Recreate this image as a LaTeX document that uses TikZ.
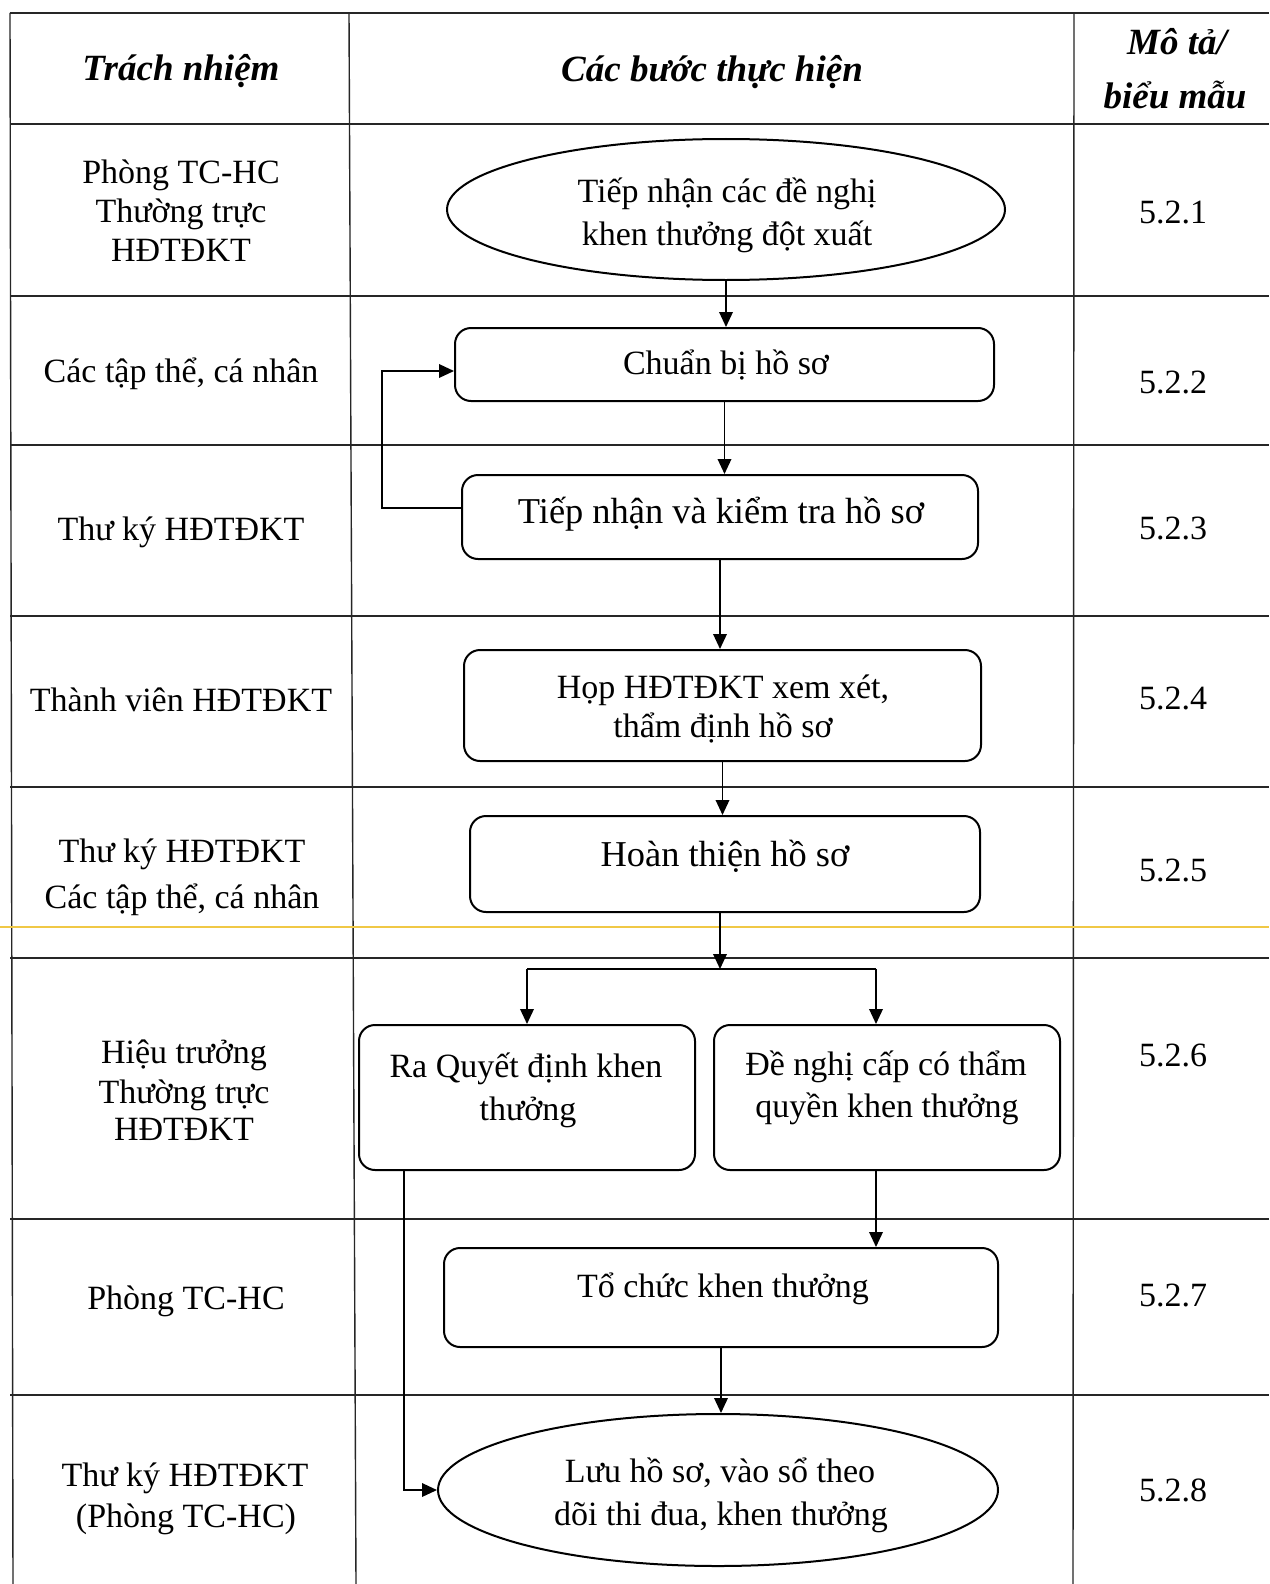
\documentclass[tikz,border=0pt]{standalone}
\usepackage{fontspec}
\setmainfont{Liberation Serif}
\usetikzlibrary{arrows.meta,shapes.geometric,calc}
\definecolor{scanyellow}{RGB}{240,200,70}
\begin{document}
\begin{tikzpicture}[x=0.5pt,y=-0.5pt,
  grid/.style={line width=0.7pt, draw=black!85},
  boxnode/.style={draw, line width=1pt, rounded corners=8pt, inner sep=0pt},
  ellnode/.style={draw, ellipse, line width=1pt, inner sep=0pt},
  ln/.style={inner sep=0pt, text height=12.75pt, text depth=2.55pt, font=\fontsize{17}{20}\selectfont},
  lnb/.style={ln, font=\fontsize{18.2}{21}\selectfont},
  hd/.style={ln, font=\fontsize{18.5}{22}\bfseries\itshape\selectfont},
  arr/.style={line width=0.8pt, -{Triangle[length=7.5pt,width=6.8pt]}},
  link/.style={line width=0.8pt}
]
\useasboundingbox (0,0) rectangle (1269,1584);
\fill[white] (0,0) rectangle (1269,1584);

% table grid
\foreach \yy in {13,124,296,445,616,787,958,1219,1395}
  \draw[grid] (10,\yy) -- (1269,\yy);
\draw[grid] (10,13) -- (13,1584);
\draw[grid] (349,13) -- (356,1584);
\draw[grid] (1074,13) -- (1073,1584);
\draw[line width=0.6pt, draw=scanyellow] (0,927) -- (1269,927);

% header
\node[hd] (h1) at (181,70) {Trách nhiệm};
\node[hd] (h2) at (712,71) {Các bước thực hiện};
\node[hd] (h3a) at (1177,44) {Mô tả/};
\node[hd] (h3b) at (1175,98) {biểu mẫu};

% responsibility column
\node[ln] (r1a) at (181,173) {Phòng TC-HC};
\node[ln] (r1b) at (181,212) {Thường trực};
\node[ln] (r1c) at (181,251) {HĐTĐKT};
\node[ln] (r2) at (181,372) {Các tập thể, cá nhân};
\node[ln] (r3) at (181,530) {Thư ký HĐTĐKT};
\node[ln] (r4) at (181,701) {Thành viên HĐTĐKT};
\node[ln] (r5a) at (182,852) {Thư ký HĐTĐKT};
\node[ln] (r5b) at (182,898) {Các tập thể, cá nhân};
\node[ln] (r6a) at (184,1053) {Hiệu trưởng};
\node[ln] (r6b) at (184,1093) {Thường trực};
\node[ln] (r6c) at (184,1130) {HĐTĐKT};
\node[ln] (r7) at (186,1299) {Phòng TC-HC};
\node[ln] (r8a) at (185,1476) {Thư ký HĐTĐKT};
\node[ln] (r8b) at (186,1517) {(Phòng TC-HC)};

% form column
\node[ln] (n1) at (1173,213) {5.2.1};
\node[ln] (n2) at (1173,383) {5.2.2};
\node[ln] (n3) at (1173,529) {5.2.3};
\node[ln] (n4) at (1173,699) {5.2.4};
\node[ln] (n5) at (1173,871) {5.2.5};
\node[ln] (n6) at (1173,1056) {5.2.6};
\node[ln] (n7) at (1173,1296) {5.2.7};
\node[ln] (n8) at (1173,1491) {5.2.8};

% shapes
\node[ellnode, minimum width=279pt, minimum height=70.5pt] (e1) at (726,209.5) {};
\node[boxnode, minimum width=269.5pt, minimum height=36.5pt] (b2) at (724.5,364.5) {};
\node[boxnode, minimum width=258pt, minimum height=42pt] (b3) at (720,517) {};
\node[boxnode, minimum width=258.5pt, minimum height=55.5pt] (b4) at (722.5,705.5) {};
\node[boxnode, minimum width=255pt, minimum height=48pt] (b5) at (725,864) {};
\node[boxnode, minimum width=168pt, minimum height=72.5pt] (b6a) at (527,1097.5) {};
\node[boxnode, minimum width=173pt, minimum height=72.5pt] (b6b) at (887,1097.5) {};
\node[boxnode, minimum width=277pt, minimum height=49.5pt] (b7) at (721,1297.5) {};
\node[ellnode, minimum width=280pt, minimum height=76pt] (e8) at (718,1490) {};

% step texts
\node[ln] (t1a) at (727,192) {Tiếp nhận các đề nghị};
\node[ln] (t1b) at (727,235) {khen thưởng đột xuất};
\node[ln] (t2) at (726,364) {Chuẩn bị hồ sơ};
\node[lnb] (t3) at (721,513) {Tiếp nhận và kiểm tra hồ sơ};
\node[ln] (t4a) at (723,688) {Họp HĐTĐKT xem xét,};
\node[ln] (t4b) at (723,727) {thẩm định hồ sơ};
\node[lnb] (t5) at (725,856) {Hoàn thiện hồ sơ};
\node[ln] (t6a1) at (526,1067) {Ra Quyết định khen};
\node[ln] (t6a2) at (528,1110) {thưởng};
\node[ln] (t6b1) at (886,1065) {Đề nghị cấp có thẩm};
\node[ln] (t6b2) at (887,1107) {quyền khen thưởng};
\node[ln] (t7) at (723,1287) {Tổ chức khen thưởng};
\node[ln] (t8a) at (720,1472) {Lưu hồ sơ, vào sổ theo};
\node[ln] (t8b) at (721,1515) {dõi thi đua, khen thưởng};

% connectors
\draw[arr] (e1.south) -- (e1.south |- b2.north);
\draw[arr] (b2.south) -- (b2.south |- b3.north);
\draw[arr] (b3.south) -- (b3.south |- b4.north);
\draw[arr] (b4.south) -- (b4.south |- b5.north);
\coordinate (fb1) at (382,508);
\coordinate (fb2) at (382,371);
\draw[arr] (fb1 -| b3.west) -- (fb1) -- (fb2) -- (fb2 -| b2.west);
\coordinate (j) at (720,969);
\coordinate (jl) at (527,969);
\coordinate (jr) at (876,969);
\draw[arr] (b5.south -| j) -- (j);
\draw[link] (jl) -- (jr);
\draw[arr] (jl) -- (jl |- b6a.north);
\draw[arr] (jr) -- (jr |- b6b.north);
\draw[arr] (jr |- b6b.south) -- (jr |- b7.north);
\coordinate (k) at (404,1490);
\draw[arr] (k |- b6a.south) -- (k) -- (e8.west);
\draw[arr] (b7.south) -- (b7.south |- e8.north);
\end{tikzpicture}
\end{document}
